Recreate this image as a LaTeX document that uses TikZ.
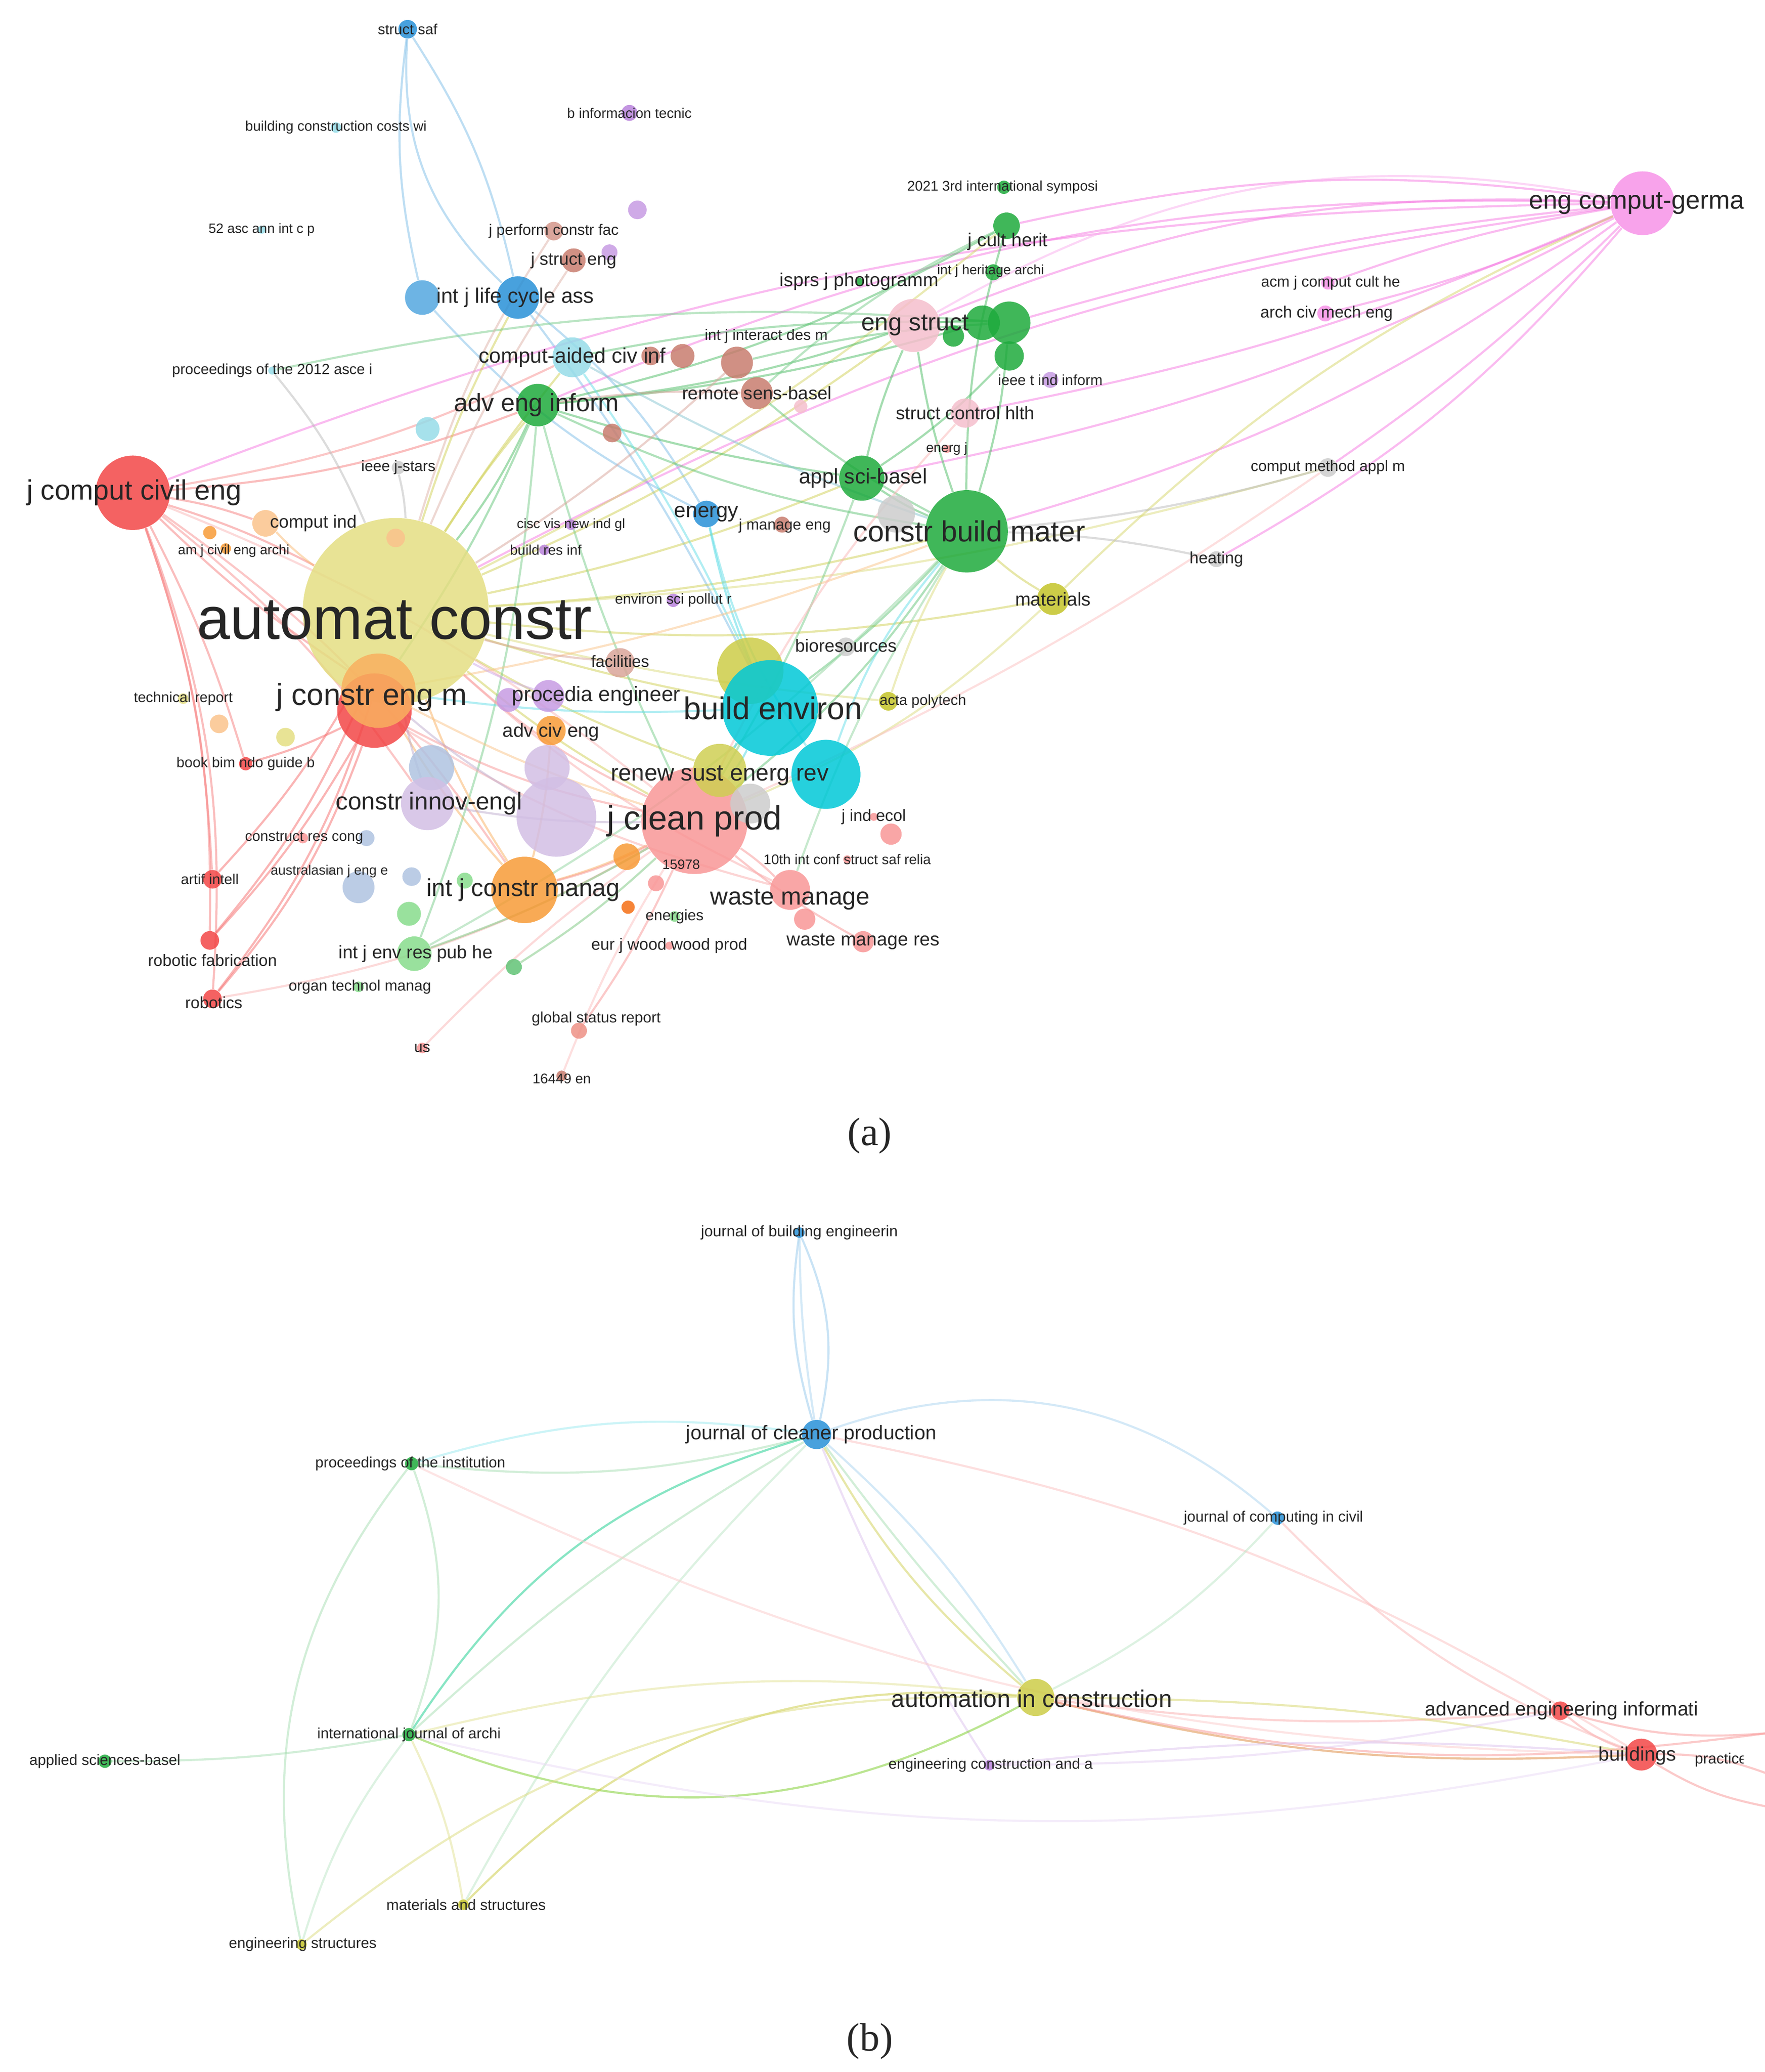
\documentclass[tikz,border=0pt]{standalone}
\usepackage{fontspec}
\setmainfont{Liberation Sans}
\newfontfamily\serifx{Liberation Serif}
\usetikzlibrary{backgrounds}
\definecolor{cred}{RGB}{242,70,70}
\definecolor{cpink}{RGB}{248,150,150}
\definecolor{cgreen}{RGB}{30,170,60}
\definecolor{cblue}{RGB}{40,145,215}
\definecolor{ccyan}{RGB}{0,200,215}
\definecolor{ckhaki}{RGB}{228,222,130}
\definecolor{cyel}{RGB}{195,195,40}
\definecolor{corange}{RGB}{247,155,55}
\definecolor{clorange}{RGB}{250,195,140}
\definecolor{cpurple}{RGB}{185,130,220}
\definecolor{clav}{RGB}{210,190,228}
\definecolor{cbrown}{RGB}{200,125,110}
\definecolor{cmag}{RGB}{245,120,225}
\definecolor{cgray}{RGB}{205,205,205}
\definecolor{clcyan}{RGB}{150,220,232}
\definecolor{clgreen}{RGB}{135,220,140}
\definecolor{csteel}{RGB}{175,195,225}
\definecolor{clpink}{RGB}{245,190,205}
\definecolor{corg2}{RGB}{245,110,20}
\tikzset{
  vn/.style={circle,inner sep=0pt,draw=none,fill opacity=0.85},
  vl/.style={inner sep=0pt,text=black!85},
  ve/.style={line width=0.9pt,opacity=0.5},
}
\newcommand\vn[5]{\node[vn,fill=#5,minimum size=#4*0.02cm] (#1) at (#2,#3) {};}
\newcommand\vl[5]{\node[vl,font=\fontsize{#4}{#4}\selectfont] (#1l) at (#2,#3) {#5};}
\newcommand\ve[4]{\draw[ve,#3] (#1) to[bend left=#4] (#2);}
\begin{document}
\begin{tikzpicture}[x=0.02cm,y=-0.02cm]
\useasboundingbox (0,0) rectangle (1329,1560);
\clip (0,0) rectangle (1313,1560);
% ---------------- (a) nodes
\vn{structsaf}{307}{22}{14}{cblue}
\vn{bcc}{253}{96}{8}{clcyan}
\vn{binfo}{474}{85}{12}{cpurple}
\vn{asc}{197}{173}{6}{clcyan}
\vn{jperf}{417}{174}{14}{cbrown!80}
\vn{pur1}{480}{158}{14}{cpurple!80}
\vn{jstruct}{432}{196}{18}{cbrown}
\vn{pur2}{459}{190}{12}{cpurple!80}
\vn{lca2}{318}{224}{26}{cblue!80}
\vn{intjlca}{390}{224}{32}{cblue}
\vn{compaided}{431}{269}{30}{clcyan}
\vn{br1}{490}{268}{14}{cbrown}
\vn{br2}{514}{268}{18}{cbrown}
\vn{proc}{205}{279}{6}{clcyan}
\vn{adveng}{405}{305}{32}{cgreen}
\vn{br3}{461}{326}{14}{cbrown}
\vn{lc1}{322}{323}{18}{clcyan}
\vn{ieee}{300}{352}{10}{cgray}
\vn{jcomputcivil}{100}{371}{56}{cred}
\vn{computind}{200}{394}{20}{clorange}
\vn{amj}{158}{401}{10}{corange}
\vn{amj2}{170}{413}{8}{corange}
\vn{automat}{298}{460}{140}{ckhaki}
\vn{or1}{298}{405}{14}{clorange}
\vn{jconstreng2}{282}{535}{56}{cred}
\vn{jconstreng}{285}{520}{56}{corange!80}
\vn{tech}{138}{526}{8}{ckhaki}
\vn{or2}{165}{545}{14}{clorange}
\vn{kh2}{215}{555}{14}{ckhaki}
\vn{bookbim}{185}{575}{10}{cred}
\vn{st1}{325}{578}{34}{csteel}
\vn{lv1}{412}{578}{34}{clav}
\vn{lv2}{419}{615}{60}{clav}
\vn{constrinnov}{322}{605}{40}{clav}
\vn{crc}{228}{631}{8}{cpink}
\vn{lb1}{276}{631}{12}{csteel}
\vn{artif}{160}{662}{14}{cred}
\vn{austr}{248}{656}{6}{cgray}
\vn{st2}{270}{668}{24}{csteel}
\vn{lb2}{310}{660}{14}{csteel}
\vn{intjconstrmanag}{395}{670}{50}{corange}
\vn{lg1}{308}{688}{18}{clgreen}
\vn{lg2}{350}{663}{12}{clgreen}
\vn{intjenv}{312}{718}{26}{clgreen}
\vn{robfab}{158}{708}{14}{cred}
\vn{organ}{270}{743}{8}{clgreen}
\vn{robotics}{160}{752}{14}{cred}
\vn{gr1}{387}{728}{12}{cgreen!70}
\vn{global}{436}{776}{12}{cpink!80!brown}
\vn{us}{318}{789}{8}{cpink}
\vn{en16449}{423}{810}{8}{cbrown}
\vn{eurj}{504}{712}{6}{cpink}
\vn{energies}{508}{690}{8}{clgreen}
\vn{or3}{473}{683}{10}{corg2}
\vn{or4}{472}{645}{20}{corange}
\vn{pk1}{494}{665}{12}{cpink}
\vn{n15978}{513}{651}{8}{cpink}
\vn{jcleanprod}{523}{618}{80}{cpink}
\vn{renew}{542}{580}{40}{cyel!80}
\vn{kh3}{565}{505}{50}{cyel!85}
\vn{buildenv}{580}{533}{72}{ccyan}
\vn{cy2}{622}{583}{52}{ccyan}
\vn{gy1}{565}{605}{30}{cgray}
\vn{bio}{637}{487}{14}{cgray}
\vn{acta}{669}{528}{14}{cyel}
\vn{jind}{658}{615}{6}{cpink}
\vn{tenth}{638}{647}{6}{cpink}
\vn{pk2}{671}{628}{16}{cpink}
\vn{wastemanage}{595}{670}{30}{cpink}
\vn{pk3}{606}{692}{16}{cpink}
\vn{wmr}{650}{709}{16}{cpink}
\vn{procedia}{413}{524}{24}{cpurple!80}
\vn{pu3}{383}{527}{18}{cpurple!80}
\vn{advciveng}{415}{550}{22}{corange}
\vn{facilities}{467}{499}{22}{cbrown!70}
\vn{environ}{507}{452}{10}{cpurple}
\vn{cisc}{430}{395}{8}{cpurple}
\vn{buildres}{410}{414}{8}{cpurple}
\vn{energy}{532}{387}{20}{cblue}
\vn{jmanage}{589}{395}{12}{cbrown}
\vn{gy2}{675}{387}{28}{cgray}
\vn{constrbuild}{728}{400}{62}{cgreen}
\vn{applsci}{649}{360}{34}{cgreen}
\vn{structcontrol}{727}{311}{22}{clpink}
\vn{energj}{713}{338}{6}{cpink}
\vn{remote}{570}{296}{24}{cbrown}
\vn{intjinteract}{555}{273}{24}{cbrown}
\vn{isprs}{647}{212}{6}{cgreen}
\vn{engstruct}{688}{245}{40}{clpink}
\vn{gc1}{760}{243}{32}{cgreen}
\vn{gc2}{740}{243}{26}{cgreen}
\vn{gc3}{760}{268}{22}{cgreen}
\vn{gc4}{718}{253}{16}{cgreen}
\vn{jcultherit}{758}{170}{20}{cgreen}
\vn{heritage}{748}{205}{12}{cgreen}
\vn{conf2021}{756}{141}{10}{cgreen}
\vn{ieeet}{791}{286}{12}{cpurple!80}
\vn{pk5}{603}{306}{10}{clpink}
\vn{computmethod}{1000}{352}{14}{cgray}
\vn{heating}{916}{421}{12}{cgray}
\vn{materials}{793}{451}{24}{cyel}
\vn{engcomput}{1237}{153}{48}{cmag!80}
\vn{acmj}{1000}{213}{10}{cmag!80}
\vn{archciv}{998}{236}{12}{cmag!80}
% ---------------- (b) nodes
\vn{jbe}{602}{928}{8}{cblue}
\vn{jcp}{615}{1080}{22}{cblue}
\vn{procinst}{310}{1102}{10}{cgreen}
\vn{jcompcivil}{962}{1143}{10}{cblue}
\vn{aic}{780}{1278}{28}{cyel!85}
\vn{intjarchi}{308}{1306}{10}{cgreen}
\vn{applied}{79}{1326}{10}{cgreen}
\vn{engconstr}{745}{1329}{8}{cpurple}
\vn{advengb}{1175}{1288}{14}{cred}
\vn{buildings}{1236}{1321}{24}{cred}
\vn{matstruct}{349}{1434}{8}{cyel}
\vn{engstructs}{227}{1464}{8}{cyel}
\coordinate (offr1) at (1330,1305);
\coordinate (offr2) at (1330,1360);
\coordinate (offr3) at (1330,1335);
% ---------------- edges
\begin{scope}[on background layer]
\ve{structsaf}{intjlca}{cblue!60}{10}
\ve{structsaf}{lca2}{cblue!60}{-10}
\ve{structsaf}{intjlca}{cblue!60}{-25}
\ve{intjlca}{energy}{cblue!60}{10}
\ve{lca2}{energy}{cblue!60}{-10}
\ve{intjlca}{buildenv}{cblue!60}{5}
\ve{engcomput}{engstruct}{cmag}{-12}
\ve{engcomput}{jcultherit}{cmag}{-10}
\ve{engcomput}{gc1}{cmag}{-5}
\ve{engcomput}{constrbuild}{cmag}{10}
\ve{engcomput}{applsci}{cmag}{8}
\ve{engcomput}{automat}{cmag}{-10}
\ve{engcomput}{adveng}{cmag}{-12}
\ve{engcomput}{jcomputcivil}{cmag}{-10}
\ve{engcomput}{computmethod}{cmag}{5}
\ve{engcomput}{acmj}{cmag}{-5}
\ve{engcomput}{archciv}{cmag}{5}
\ve{engcomput}{structcontrol}{cmag}{6}
\ve{engcomput}{heating}{cmag}{10}
\ve{engcomput}{engstruct}{cmag!60}{-20}
\ve{jcomputcivil}{automat}{cred!70}{5}
\ve{jcomputcivil}{jconstreng}{cred!70}{-5}
\ve{jcomputcivil}{artif}{cred!70}{8}
\ve{jcomputcivil}{robfab}{cred!70}{10}
\ve{jcomputcivil}{robotics}{cred!70}{12}
\ve{jcomputcivil}{computind}{cred!70}{5}
\ve{jcomputcivil}{adveng}{cred!70}{-8}
\ve{jcomputcivil}{bookbim}{cred!70}{5}
\ve{jcomputcivil}{constrinnov}{cred!60}{8}
\ve{jcomputcivil}{intjconstrmanag}{cred!60}{10}
\ve{jcomputcivil}{compaided}{cred!60}{-8}
\ve{jcomputcivil}{jcleanprod}{cred!40}{8}
\ve{robotics}{automat}{cred!80}{-10}
\ve{robfab}{automat}{cred!80}{-8}
\ve{artif}{automat}{cred!80}{-6}
\ve{robotics}{jconstreng2}{cred!80}{-10}
\ve{robfab}{jconstreng2}{cred!80}{-6}
\ve{bookbim}{jconstreng2}{cred!80}{-5}
\ve{automat}{constrbuild}{cyel!80}{-5}
\ve{automat}{buildenv}{cyel!80}{-3}
\ve{automat}{jcleanprod}{cyel!80}{-5}
\ve{automat}{adveng}{cyel!80}{3}
\ve{automat}{applsci}{cyel!80}{-5}
\ve{automat}{engstruct}{cyel!80}{-6}
\ve{automat}{materials}{cyel!80}{-8}
\ve{automat}{intjlca}{cyel!80}{5}
\ve{automat}{compaided}{cyel!80}{3}
\ve{automat}{renew}{cyel!80}{-5}
\ve{automat}{jcultherit}{cyel!70}{-6}
\ve{automat}{computmethod}{cyel!60}{-6}
\ve{automat}{acta}{cyel!60}{-4}
\ve{materials}{engcomput}{cyel!70}{10}
\ve{materials}{constrbuild}{cyel!80}{5}
\ve{materials}{jcleanprod}{cyel!60}{10}
\ve{acta}{constrbuild}{cyel!60}{5}
\ve{constrbuild}{engstruct}{cgreen!80}{5}
\ve{constrbuild}{jcultherit}{cgreen!80}{8}
\ve{constrbuild}{gc1}{cgreen!80}{-6}
\ve{constrbuild}{applsci}{cgreen!80}{5}
\ve{constrbuild}{adveng}{cgreen!70}{8}
\ve{constrbuild}{jcleanprod}{cgreen!70}{8}
\ve{constrbuild}{buildenv}{cgreen!70}{5}
\ve{constrbuild}{intjenv}{cgreen!50}{8}
\ve{constrbuild}{remote}{cgreen!70}{6}
\ve{constrbuild}{wastemanage}{cgreen!50}{-6}
\ve{adveng}{engstruct}{cgreen!80}{-6}
\ve{adveng}{jcultherit}{cgreen!80}{-8}
\ve{adveng}{gc2}{cgreen!80}{-5}
\ve{adveng}{applsci}{cgreen!80}{-4}
\ve{adveng}{jcleanprod}{cgreen!60}{-5}
\ve{adveng}{automat}{cgreen!80}{6}
\ve{adveng}{jconstreng}{cgreen!70}{5}
\ve{adveng}{intjenv}{cgreen!60}{8}
\ve{engstruct}{gc1}{cgreen!80}{5}
\ve{applsci}{gc3}{cgreen!80}{-6}
\ve{applsci}{engstruct}{cgreen!80}{5}
\ve{applsci}{jcleanprod}{cgreen!60}{5}
\ve{jcultherit}{remote}{cgreen!60}{-8}
\ve{gc1}{intjinteract}{cgreen!70}{-5}
\ve{gc2}{compaided}{cgreen!70}{-6}
\ve{gc1}{proc}{cgreen!60}{-8}
\ve{buildenv}{jcleanprod}{ccyan!70}{5}
\ve{buildenv}{energy}{ccyan!70}{5}
\ve{buildenv}{renew}{ccyan!70}{-5}
\ve{buildenv}{jconstreng}{ccyan!60}{5}
\ve{cy2}{energy}{ccyan!60}{10}
\ve{buildenv}{compaided}{ccyan!60}{-5}
\ve{cy2}{constrbuild}{ccyan!60}{10}
\ve{intjconstrmanag}{automat}{corange!80}{6}
\ve{intjconstrmanag}{jconstreng}{corange!80}{5}
\ve{intjconstrmanag}{jcleanprod}{corange!80}{-5}
\ve{intjconstrmanag}{advciveng}{corange!80}{-5}
\ve{computind}{automat}{corange!70}{-5}
\ve{jconstreng}{jcleanprod}{corange!60}{-5}
\ve{jconstreng}{constrbuild}{corange!60}{-5}
\ve{jcleanprod}{wastemanage}{cpink}{5}
\ve{jcleanprod}{renew}{cpink}{-5}
\ve{jcleanprod}{automat}{cpink}{8}
\ve{jcleanprod}{jconstreng2}{cpink}{8}
\ve{jcleanprod}{intjconstrmanag}{cpink}{6}
\ve{jcleanprod}{global}{cpink}{5}
\ve{jcleanprod}{wmr}{cpink}{-5}
\ve{jcleanprod}{robotics}{cpink!70}{10}
\ve{jcleanprod}{structcontrol}{cpink!70}{8}
\ve{jcleanprod}{us}{cpink!70}{-5}
\ve{wastemanage}{automat}{cpink!80}{8}
\ve{wastemanage}{jconstreng2}{cpink!80}{8}
\ve{jcleanprod}{computmethod}{cpink!60}{-5}
\ve{jcleanprod}{en16449}{cpink!60}{-5}
\ve{constrinnov}{automat}{clav!90!black}{5}
\ve{constrinnov}{jcleanprod}{clav!90!black}{-5}
\ve{lv2}{jconstreng}{clav!90!black}{5}
\ve{procedia}{automat}{cpurple!70}{5}
\ve{facilities}{automat}{cbrown!70}{5}
\ve{intjinteract}{automat}{cbrown!70}{5}
\ve{remote}{adveng}{cbrown!70}{-5}
\ve{jstruct}{automat}{cbrown!60}{-5}
\ve{jperf}{automat}{cbrown!60}{-8}
\ve{compaided}{constrbuild}{clcyan!90!black}{-5}
\ve{ieee}{automat}{cgray!90!black}{5}
\ve{proc}{automat}{cgray!90!black}{8}
\ve{computmethod}{constrbuild}{cgray!90!black}{5}
\ve{heating}{constrbuild}{cgray!90!black}{-5}
\ve{intjenv}{jcleanprod}{clgreen!90!black}{-5}
\ve{gr1}{jcleanprod}{clgreen!90!black}{-5}
% (b)
\ve{jbe}{jcp}{cblue!50}{18}
\ve{jbe}{jcp}{cblue!50}{-12}
\ve{jbe}{jcp}{cblue!40}{-4}
\ve{jcp}{jcompcivil}{cblue!40}{30}
\ve{jcp}{procinst}{cgreen!40}{10}
\ve{jcp}{procinst}{ccyan!40}{-12}
\ve{jcp}{intjarchi}{cgreen!60!cyan}{-20}
\ve{jcp}{intjarchi}{cgreen!40}{-6}
\ve{jcp}{aic}{cyel!80}{-10}
\ve{jcp}{aic}{cblue!40}{8}
\ve{jcp}{aic}{cgreen!40}{-3}
\ve{jcp}{engconstr}{cpurple!50}{-5}
\ve{jcp}{matstruct}{cgreen!30}{-8}
\ve{jcp}{buildings}{cpink!60}{10}
\ve{aic}{intjarchi}{cgreen!60!yellow}{25}
\ve{aic}{intjarchi}{cyel!50}{-10}
\ve{aic}{matstruct}{cyel!90}{-25}
\ve{aic}{engstructs}{cyel!60}{-20}
\ve{aic}{advengb}{cpink!80}{-6}
\ve{aic}{buildings}{cred!50!cyel}{-8}
\ve{aic}{buildings}{cyel!70}{5}
\ve{aic}{offr1}{cpink}{-10}
\ve{aic}{jcompcivil}{cgreen!30}{-10}
\ve{intjarchi}{applied}{cgreen!40}{5}
\ve{intjarchi}{procinst}{cgreen!40}{-20}
\ve{intjarchi}{engstructs}{cgreen!30}{-10}
\ve{intjarchi}{matstruct}{cyel!50}{8}
\ve{intjarchi}{buildings}{cpurple!30}{-12}
\ve{advengb}{buildings}{cred!50}{-10}
\ve{buildings}{offr2}{cpink}{-10}
\ve{buildings}{offr3}{cpink}{10}
\ve{advengb}{offr1}{cpink}{-10}
\ve{jcompcivil}{buildings}{cpink!70}{-12}
\ve{procinst}{buildings}{cpink!50}{-12}
\ve{engconstr}{buildings}{cpurple!50}{5}
\ve{engconstr}{advengb}{cpurple!40}{-5}
\ve{procinst}{engstructs}{cgreen!40}{-25}
\end{scope}
% ---------------- labels (a)
\vl{structsaf}{307}{22}{6.3pt}{struct saf}
\vl{bcc}{253}{96}{6pt}{building construction costs wi}
\vl{binfo}{474}{85}{6pt}{b informacion tecnic}
\vl{asc}{197}{173}{5.8pt}{52 asc ann int c p}
\vl{jperf}{417}{174}{6.5pt}{j perform constr fac}
\vl{jstruct}{432}{196}{7.5pt}{j struct eng}
\vl{intjlca}{388}{224}{9pt}{int j life cycle ass}
\vl{compaided}{431}{269}{9pt}{comput-aided civ inf}
\vl{proc}{205}{279}{6.3pt}{proceedings of the 2012 asce i}
\vl{adveng}{404}{305}{10.7pt}{adv eng inform}
\vl{ieee}{300}{352}{6.5pt}{ieee j-stars}
\vl{jcomputcivil}{101}{371}{12pt}{j comput civil eng}
\vl{computind}{236}{394}{7.6pt}{comput ind}
\vl{amj}{176}{415}{5.8pt}{am j civil eng archi}
\vl{automat}{297}{467}{25.6pt}{automat constr}
\vl{jconstreng}{280}{525}{13pt}{j constr eng m}
\vl{tech}{138}{526}{6.2pt}{technical report}
\vl{bookbim}{185}{575}{6.2pt}{book bim ndo guide b}
\vl{constrinnov}{323}{605}{10.5pt}{constr innov-engl}
\vl{crc}{229}{631}{6.2pt}{construct res cong}
\vl{artif}{158}{662}{6.2pt}{artif intell}
\vl{austr}{248}{656}{5.8pt}{australasian j eng e}
\vl{intjconstrmanag}{394}{670}{10.5pt}{int j constr manag}
\vl{intjenv}{313}{718}{7.8pt}{int j env res pub he}
\vl{robfab}{160}{723}{7pt}{robotic fabrication}
\vl{organ}{271}{743}{6.5pt}{organ technol manag}
\vl{robotics}{161}{755}{7pt}{robotics}
\vl{global}{449}{767}{6.5pt}{global status report}
\vl{us}{318}{789}{6.5pt}{us}
\vl{en16449}{423}{812}{6pt}{16449 en}
\vl{eurj}{504}{712}{7pt}{eur j wood wood prod}
\vl{energies}{508}{690}{6.5pt}{energies}
\vl{n15978}{513}{651}{5.8pt}{15978}
\vl{jcleanprod}{523}{618}{14.5pt}{j clean prod}
\vl{renew}{542}{584}{10pt}{renew sust energ rev}
\vl{buildenv}{582}{533}{13.5pt}{build environ}
\vl{bio}{637}{486}{7.6pt}{bioresources}
\vl{acta}{695}{528}{6.3pt}{acta polytech}
\vl{jind}{658}{615}{7pt}{j ind ecol}
\vl{tenth}{638}{647}{6pt}{10th int conf struct saf relia}
\vl{wastemanage}{595}{677}{10.5pt}{waste manage}
\vl{wmr}{650}{709}{8pt}{waste manage res}
\vl{procedia}{449}{524}{9pt}{procedia engineer}
\vl{advciveng}{415}{551}{8.2pt}{adv civ eng}
\vl{facilities}{467}{498}{7pt}{facilities}
\vl{environ}{507}{452}{6.2pt}{environ sci pollut r}
\vl{cisc}{430}{395}{5.8pt}{cisc vis new ind gl}
\vl{buildres}{411}{414}{6pt}{build res inf}
\vl{energy}{532}{387}{9pt}{energy}
\vl{jmanage}{591}{396}{6.5pt}{j manage eng}
\vl{constrbuild}{730}{400}{12.5pt}{constr build mater}
\vl{applsci}{650}{360}{9pt}{appl sci-basel}
\vl{structcontrol}{727}{311}{7.8pt}{struct control hlth}
\vl{energj}{713}{338}{5.8pt}{energ j}
\vl{remote}{570}{296}{7.8pt}{remote sens-basel}
\vl{intjinteract}{577}{253}{6.5pt}{int j interact des m}
\vl{isprs}{647}{212}{8pt}{isprs j photogramm}
\vl{engstruct}{689}{245}{10.5pt}{eng struct}
\vl{jcultherit}{759}{182}{8pt}{j cult herit}
\vl{heritage}{746}{204}{5.8pt}{int j heritage archi}
\vl{conf2021}{755}{141}{6pt}{2021 3rd international symposi}
\vl{ieeet}{791}{286}{6.3pt}{ieee t ind inform}
\vl{computmethod}{1000}{352}{6.5pt}{comput method appl m}
\vl{heating}{916}{421}{7pt}{heating}
\vl{materials}{793}{451}{8pt}{materials}
\node[vl,font=\fontsize{11pt}{11pt}\selectfont,anchor=west] (engcomputl) at (1151,153) {eng comput-germany};
\vl{acmj}{1002}{213}{6.5pt}{acm j comput cult he}
\vl{archciv}{999}{236}{7pt}{arch civ mech eng}
\node[vl,font=\serifx\fontsize{17pt}{17pt}\selectfont] (capa) at (655,855) {(a)};
% ---------------- labels (b)
\vl{jbe}{602}{928}{6.6pt}{journal of building engineerin}
\vl{jcp}{611}{1080}{8.5pt}{journal of cleaner production}
\vl{procinst}{309}{1102}{6.4pt}{proceedings of the institution}
\vl{jcompcivil}{959}{1143}{6.4pt}{journal of computing in civil}
\vl{aic}{777}{1279}{10.3pt}{automation in construction}
\vl{intjarchi}{308}{1306}{6.4pt}{international journal of archi}
\vl{applied}{79}{1326}{6.4pt}{applied sciences-basel}
\vl{engconstr}{746}{1329}{6.4pt}{engineering construction and a}
\vl{advengb}{1176}{1288}{8.4pt}{advanced engineering informati}
\vl{buildings}{1233}{1322}{8.4pt}{buildings}
\node[vl,font=\fontsize{6.4pt}{6.4pt}\selectfont,anchor=west] (practicel) at (1276,1325) {practice};
\vl{matstruct}{351}{1434}{6.4pt}{materials and structures}
\vl{engstructs}{228}{1464}{6.4pt}{engineering structures}
\node[vl,font=\serifx\fontsize{17pt}{17pt}\selectfont] (capb) at (655,1537) {(b)};
\end{tikzpicture}
\end{document}
